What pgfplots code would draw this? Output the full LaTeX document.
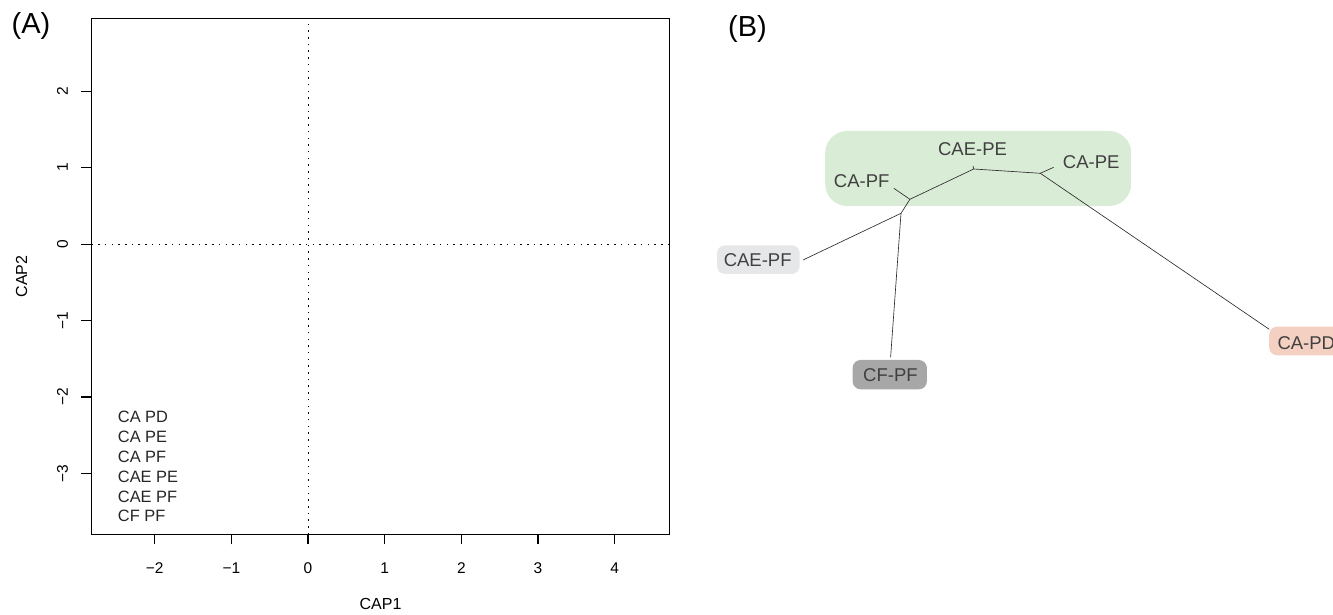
\documentclass[border=0pt]{standalone}
\usepackage{pgfplots}
\pgfplotsset{compat=1.18}
\usepackage{fontspec}
\setmainfont{Liberation Sans}
\definecolor{boxgreen}{RGB}{217,236,214}
\definecolor{boxlight}{RGB}{230,231,233}
\definecolor{boxgray}{RGB}{167,167,167}
\definecolor{boxpeach}{RGB}{243,208,193}
\definecolor{labtext}{RGB}{64,64,64}
\definecolor{treeline}{RGB}{45,45,45}
\begin{document}
\begin{tikzpicture}[x=1pt,y=1pt]
% ---------------- Panel A ----------------
\begin{axis}[
  name=A, scale only axis, width=578.1pt, height=516pt,
  at={(91.5pt,80.6pt)}, anchor=south west,
  xmin=-2.824, xmax=4.716, ymin=-3.795, ymax=2.952,
  clip mode=individual,
  axis line style={line width=1.3pt},
  every tick/.style={black, line width=1.3pt},
  major tick length=10pt, tick align=outside,
  xtick pos=bottom, ytick pos=left,
  xtick={-2,-1,0,1,2,3,4}, xticklabels={−2,−1,0,1,2,3,4},
  ytick={-3,-2,-1,0,1,2}, yticklabels={−3,−2,−1,0,1,2},
  ticklabel style={font=\fontsize{15.5}{18}\selectfont},
  xticklabel style={anchor=center, inner sep=0pt, yshift=-24pt},
  yticklabel style={rotate=90, anchor=center, inner sep=0pt, yshift=19pt},
  xlabel={CAP1}, ylabel={CAP2},
  xlabel style={at={(axis description cs:0.5,0)}, anchor=center, inner sep=0pt, yshift=-69.6pt, font=\fontsize{16}{19}\selectfont},
  ylabel style={at={(axis description cs:0,0.5)}, anchor=center, inner sep=0pt, yshift=70pt, font=\fontsize{16}{19}\selectfont},
]
\addplot[black, line width=1pt, dash pattern=on 1.5pt off 5.2pt] coordinates {(0,-3.795) (0,2.952)};
\addplot[black, line width=1pt, dash pattern=on 1.5pt off 5.2pt] coordinates {(-2.824,0) (4.716,0)};
\begin{scope}[every node/.style={anchor=west, inner sep=0pt, font=\fontsize{16.4}{19}\selectfont, text=black!85}]
\node at (axis cs:-2.482,-2.261) {CA PD};
\node at (axis cs:-2.482,-2.521) {CA PE};
\node at (axis cs:-2.482,-2.780) {CA PF};
\node at (axis cs:-2.482,-3.040) {CAE PE};
\node at (axis cs:-2.482,-3.300) {CAE PF};
\node at (axis cs:-2.482,-3.559) {CF PF};
\end{scope}
\end{axis}
% ---------------- Panel B ----------------
\begin{axis}[
  name=B, scale only axis, width=633pt, height=615pt,
  at={(700pt,0pt)}, anchor=south west,
  xmin=700, xmax=1333, ymin=0, ymax=615, y dir=reverse,
  hide axis, clip=true,
]
\addplot[draw=none, fill=boxgreen, rounded corners=22pt] coordinates {(825.2,131) (1131.2,131) (1131.2,206) (825.2,206)} -- cycle;
\addplot[draw=none, fill=boxlight, rounded corners=8pt] coordinates {(717,245.3) (799.7,245.3) (799.7,274) (717,274)} -- cycle;
\addplot[draw=none, fill=boxgray, rounded corners=8pt] coordinates {(852.6,360) (926.9,360) (926.9,389.3) (852.6,389.3)} -- cycle;
\addplot[draw=none, fill=boxpeach, rounded corners=8pt] coordinates {(1269.2,326.7) (1360,326.7) (1360,355.3) (1269.2,355.3)} -- cycle;
% tree
\addplot[treeline, line width=0.65pt, line join=round] coordinates {(803,260) (901,213.3) (909.9,199.3) (973.7,169) (1040.3,173.3) (1269.2,329.3)};
\addplot[treeline, line width=0.65pt] coordinates {(901,213.3) (890.6,357.3)};
\addplot[treeline, line width=0.65pt] coordinates {(909.9,199.3) (893.8,188.3)};
\addplot[treeline, line width=0.65pt] coordinates {(973.7,169) (973,166)};
\addplot[treeline, line width=0.65pt] coordinates {(1040.3,173.3) (1053.7,167.3)};
\begin{scope}[every node/.style={anchor=center, inner sep=0pt, font=\fontsize{18.5}{22}\selectfont, text=labtext}]
\node at (axis cs:972.5,149.3) {CAE-PE};
\node at (axis cs:1091.2,162.2) {CA-PE};
\node at (axis cs:861.7,181.2) {CA-PF};
\node at (axis cs:757.7,260.2) {CAE-PF};
\node at (axis cs:890.4,375.5) {CF-PF};
\node[anchor=west] at (axis cs:1277.3,343.3) {CA-PD};
\end{scope}
\end{axis}
% panel letters
\node[font=\fontsize{29}{34}\selectfont, inner sep=0pt] at (31,589.2) {(A)};
\node[font=\fontsize{29}{34}\selectfont, inner sep=0pt] at (747.5,586) {(B)};
\pgfresetboundingbox
\useasboundingbox (0,0) rectangle (1333,615);
\end{tikzpicture}
\end{document}
